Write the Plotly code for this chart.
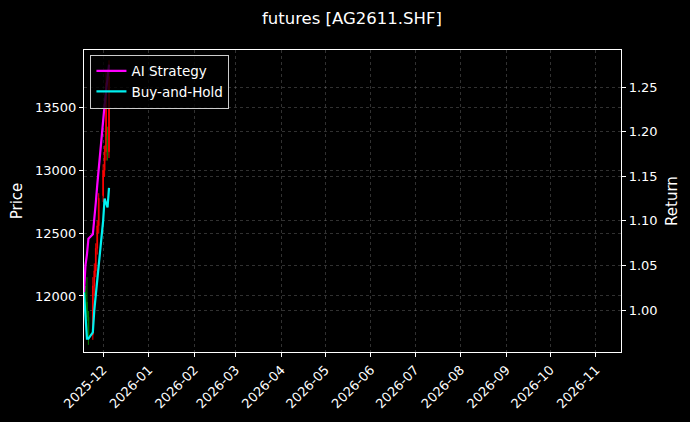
import plotly.graph_objects as go

# ── Data ─────────────────────────────────────────────────────────────────────
dates = ["2025-11-18", "2025-11-19", "2025-11-20", "2025-11-21", "2025-11-24",
         "2025-11-25", "2025-11-26", "2025-11-27", "2025-11-28", "2025-12-01",
         "2025-12-02", "2025-12-03", "2025-12-04", "2025-12-05"]
open_px = [11980, 12030, 11950, 11830, 11690, 12080, 12200, 12380, 12560, 12800, 13000, 13150, 13280, 13150]
high_px = [12060, 12080, 12150, 11880, 12150, 12260, 12420, 12600, 12820, 13050, 13200, 13800, 13350, 13880]
low_px = [11920, 11880, 11800, 11610, 11650, 12000, 12150, 12330, 12500, 12750, 12950, 13080, 13080, 13100]
close_px = [12030, 11900, 11830, 11680, 12080, 12200, 12380, 12560, 12780, 13000, 13150, 13700, 13120, 13750]

ai_return = [1.020, 1.050, 1.062, 1.080, 1.085, 1.100, 1.120, 1.140, 1.160, 1.215, 1.230, 1.245, 1.265, 1.275]
bh_return = [1.020, 0.990, 0.968, 0.968, 0.975, 1.000, 1.015, 1.030, 1.050, 1.100, 1.125, 1.120, 1.115, 1.137]

month_ticks = ["2025-12-01", "2026-01-01", "2026-02-01", "2026-03-01", "2026-04-01", "2026-05-01",
               "2026-06-01", "2026-07-01", "2026-08-01", "2026-09-01", "2026-10-01", "2026-11-01"]
price_ticks = [12000, 12500, 13000, 13500]
return_ticks = [1.00, 1.05, 1.10, 1.15, 1.20, 1.25]

FONT = "DejaVu Sans"
GRID = "rgba(128,128,128,0.38)"
W, H = 690, 422

fig = go.Figure()

fig.add_trace(go.Candlestick(
    x=dates, open=open_px, high=high_px, low=low_px, close=close_px,
    increasing=dict(line=dict(color="red", width=1), fillcolor="red"),
    decreasing=dict(line=dict(color="green", width=1), fillcolor="green"),
    showlegend=False, yaxis="y"
))
fig.add_trace(go.Scatter(
    x=dates, y=ai_return, mode="lines", name="AI Strategy",
    line=dict(color="#ff00ff", width=2.2), yaxis="y2"
))
fig.add_trace(go.Scatter(
    x=dates, y=bh_return, mode="lines", name="Buy-and-Hold",
    line=dict(color="#00f0f0", width=2.2), yaxis="y2"
))

fig.update_layout(
    width=W, height=H,
    paper_bgcolor="black", plot_bgcolor="black",
    font=dict(family=FONT, color="white", size=13),
    margin=dict(l=84, r=69, t=50, b=70),
    title=dict(text="futures [AG2611.SHF]", x=0.51, xref="container", xanchor="center",
               y=1 - 18 / H, yref="container", yanchor="middle",
               font=dict(size=16.5, color="white")),
    xaxis=dict(
        type="date", range=["2025-11-18", "2026-11-18"],
        tickvals=month_ticks, tickformat="%Y-%m", tickangle=-45,
        ticks="outside", ticklen=4, tickcolor="white", automargin=False,
        showgrid=True, gridcolor=GRID, griddash="3px,3px", gridwidth=0.7,
        showline=True, linecolor="white", linewidth=1.2, mirror=True,
        rangeslider=dict(visible=False), zeroline=False,
    ),
    yaxis=dict(
        title=dict(text="Price", standoff=8, font=dict(size=15)), range=[11553, 13962],
        tickvals=price_ticks, tickformat="d", ticks="outside", ticklen=4, tickcolor="white",
        automargin=False,
        showgrid=True, gridcolor=GRID, griddash="3px,3px", gridwidth=0.7,
        showline=True, linecolor="white", linewidth=1.2, zeroline=False,
    ),
    yaxis2=dict(
        title=dict(text="Return", standoff=9, font=dict(size=15)), range=[0.953, 1.2915],
        overlaying="y", side="right", automargin=False,
        tickvals=return_ticks, tickformat=".2f", ticks="outside", ticklen=4, tickcolor="white",
        showgrid=True, gridcolor=GRID, griddash="3px,3px", gridwidth=0.7,
        showline=True, linecolor="white", linewidth=1.2, zeroline=False,
    ),
    legend=dict(
        x=0.012, y=0.985, xanchor="left", yanchor="top",
        bgcolor="rgba(0,0,0,0.8)", bordercolor="#cccccc", borderwidth=1,
        font=dict(size=13.5, color="white"),
    ),
)

# drop the page's default 8px body margin so the figure sits at the window corner
fig.write_html("out.html", config={"displayModeBar": False},
               post_script="document.body.style.margin='0';document.body.style.background='black';")
